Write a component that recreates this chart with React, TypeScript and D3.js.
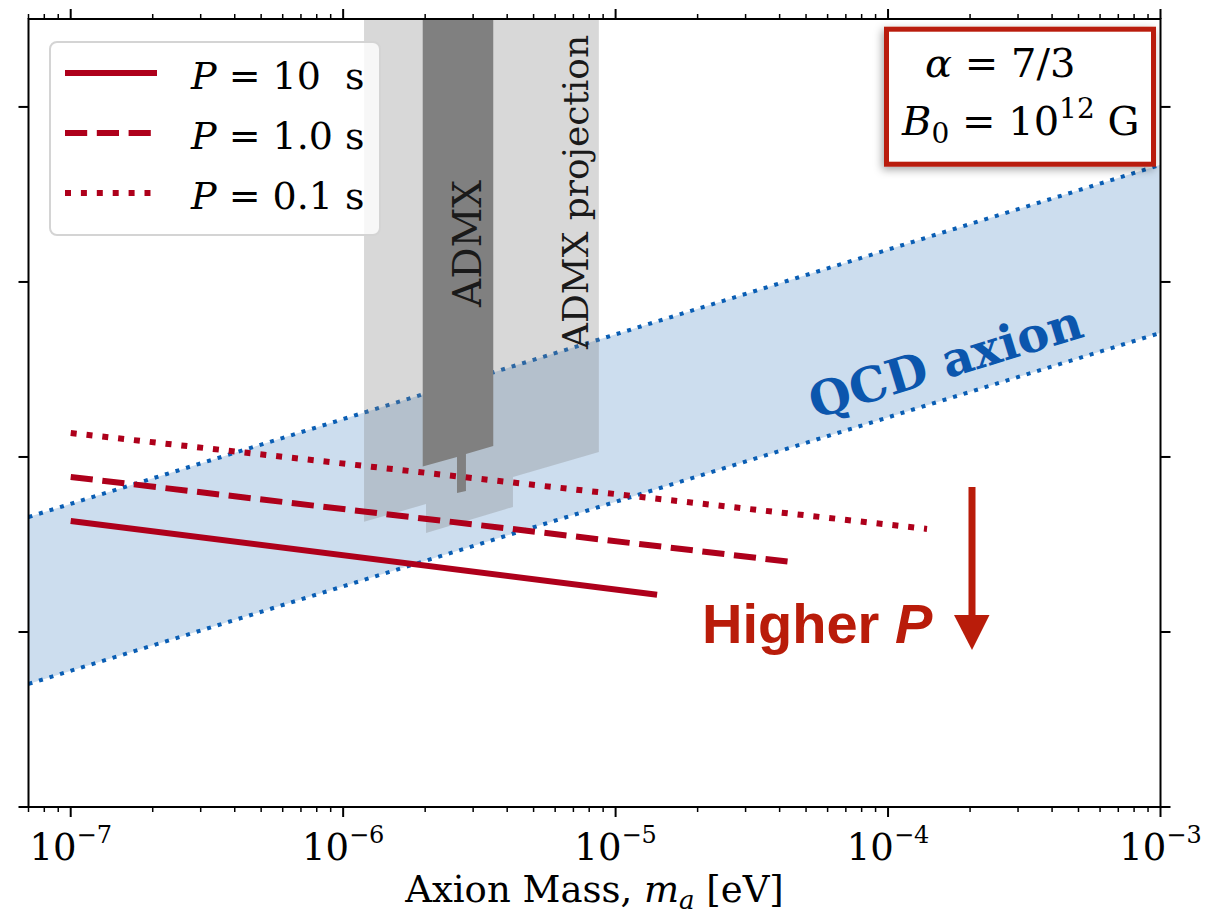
import React from "react";
import * as d3 from "d3";

// axion mass ticks (eV) and coupling ticks (no labels)
const massTicks = [1e-7, 1e-6, 1e-5, 1e-4, 1e-3];
const massTickExp = ["−7", "−6", "−5", "−4", "−3"];
const gTicks = [1e-16, 1e-15, 1e-14, 1e-13, 1e-12];

// QCD axion band edges
const qcdMass = [7e-8, 1e-3];
const qcdUpper = [4.54e-15, 4.67e-13];
const qcdLower = [5.05e-16, 5.12e-14];

// pulsar period curves
const periodLabels = ["10  s", "1.0 s", "0.1 s"];
const periodMass = [
  [1e-7, 1.42e-5],
  [1e-7, 4.44e-5],
  [1e-7, 1.39e-4],
];
const periodG = [
  [4.31e-15, 1.63e-15],
  [7.69e-15, 2.51e-15],
  [1.37e-14, 3.88e-15],
];

// ADMX exclusion and projection outlines
const gTop = 3.18e-12;
const admxProjMass = [1.193e-6, 1.193e-6, 2.014e-6, 2.014e-6, 4.2e-6, 4.2e-6, 8.68e-6, 8.68e-6];
const admxProjG = [gTop, 4.26e-15, 5.38e-15, 3.68e-15, 5.18e-15, 7.69e-15, 1.069e-14, gTop];
const admxMass = [1.959e-6, 1.959e-6, 2.617e-6, 2.617e-6, 2.823e-6, 2.823e-6, 3.556e-6, 3.556e-6];
const admxG = [gTop, 8.81e-15, 1.0e-14, 6.22e-15, 6.4e-15, 1.04e-14, 1.156e-14, gTop];

const RED = "#ae001b";
const HOT = "#b91c0a";
const BLUE = "#0a5eb4";
const SERIF = "DejaVu Serif";

export default function App() {
  const left = 28.5, right = 1160.5, top = 19, bottom = 807;
  const x = d3.scaleLog().domain([7e-8, 1e-3]).range([left, right]);
  const y = d3.scaleLog().domain([1e-16, gTop]).range([bottom, top]);

  const isMajor = (v: number) => Math.abs(Math.log10(v) - Math.round(Math.log10(v))) < 1e-6;
  const minor = x.ticks().filter(v => !isMajor(v));

  const zip = (a: number[], b: number[]) => a.map((v, i) => [v, b[i]] as [number, number]);
  const line = d3.line<[number, number]>().x(d => x(d[0])).y(d => y(d[1]));
  const band = d3.area<number>()
    .x(m => x(m))
    .y0((_, i) => y(qcdLower[i]))
    .y1((_, i) => y(qcdUpper[i]));

  // solid, dashed, dotted (matplotlib-like patterns for lw 6)
  const dashes = ["none", "22.2 9.6", "6 9.9"];

  return (
    <svg width={1225} height={920} style={{ position: "absolute", left: 0, top: 0, background: "#fff" }}
      fontFamily={SERIF}>
      <defs>
        <clipPath id="plot">
          <rect x={left} y={top} width={right - left} height={bottom - top} />
        </clipPath>
        <filter id="shadow" x="-20%" y="-30%" width="140%" height="160%">
          <feDropShadow dx={-2} dy={3} stdDeviation={4} floodColor="#000" floodOpacity={0.35} />
        </filter>
      </defs>

      <g clipPath="url(#plot)">
        <path d={band(qcdMass) ?? ""} fill="#ccddee" />
        <path d={line(zip(qcdMass, qcdUpper)) ?? ""} fill="none" stroke={BLUE} strokeWidth={4} strokeDasharray="4 7" />
        <path d={line(zip(qcdMass, qcdLower)) ?? ""} fill="none" stroke={BLUE} strokeWidth={4} strokeDasharray="4 7" />
        <path d={(line(zip(admxProjMass, admxProjG)) ?? "") + "Z"} fill="rgb(127,127,127)" fillOpacity={0.3} />
        <path d={(line(zip(admxMass, admxG)) ?? "") + "Z"} fill="#808080" />
        {periodMass.map((m, i) => (
          <path key={i} d={line(zip(m, periodG[i])) ?? ""} fill="none" stroke={RED} strokeWidth={6}
            strokeDasharray={dashes[i]} />
        ))}
      </g>

      <text transform="translate(481,307) rotate(-90)" fontSize={39} fill="#1a1a1a">ADMX</text>
      <text transform="translate(588,349) rotate(-90)" fontSize={36} fill="#1a1a1a">ADMX projection</text>
      <text transform="translate(815,419) rotate(-17)" fontSize={48} fontWeight="bold" fill="#0b56ad">QCD axion</text>

      {/* Higher P arrow */}
      <text x={702} y={643} fontFamily="Liberation Sans" fontWeight="bold" fontSize={56} fill={HOT}>
        Higher <tspan fontStyle="italic">P</tspan>
      </text>
      <line x1={972} x2={972} y1={487} y2={618} stroke={HOT} strokeWidth={7} />
      <path d="M954,615 L989.5,615 L972,650 Z" fill={HOT} />

      {/* legend */}
      <rect x={50} y={42} width={330} height={193} rx={7} fill="#fff" fillOpacity={0.8} stroke="#d4d4d4" strokeWidth={2} />
      {periodLabels.map((lab, i) => (
        <g key={lab}>
          <line x1={65} x2={157} y1={73 + i * 60} y2={73 + i * 60} stroke={RED} strokeWidth={6} strokeDasharray={dashes[i]} />
          <text x={191} y={89 + i * 60} fontSize={38} style={{ whiteSpace: "pre" }}>
            <tspan fontStyle="italic">P</tspan>{" = " + lab}
          </text>
        </g>
      ))}

      {/* parameter box */}
      <rect x={886.5} y={29.2} width={267} height={135} fill="#fff" stroke={HOT} strokeWidth={5} filter="url(#shadow)" />
      <text x={925} y={77} fontSize={40} style={{ whiteSpace: "pre" }}>
        <tspan fontStyle="italic">α</tspan>{" = 7/3"}
      </text>
      <text x={902} y={135} fontSize={40} style={{ whiteSpace: "pre" }}>
        <tspan fontStyle="italic">B</tspan>
        <tspan fontSize={28} dy={8}>0</tspan>
        <tspan dy={-8}>{" = 10"}</tspan>
        <tspan fontSize={28} dy={-17}>12</tspan>
        <tspan dy={17}>{" G"}</tspan>
      </text>

      {/* frame */}
      <rect x={left} y={top} width={right - left} height={bottom - top} fill="none" stroke="#000" strokeWidth={2} />

      {/* x ticks bottom and top */}
      {massTicks.map(v => (
        <g key={"M" + v}>
          <line x1={x(v)} x2={x(v)} y1={bottom} y2={bottom + 10} stroke="#000" strokeWidth={2} />
          <line x1={x(v)} x2={x(v)} y1={top} y2={top - 10} stroke="#000" strokeWidth={2} />
        </g>
      ))}
      {minor.map(v => (
        <g key={"m" + v}>
          <line x1={x(v)} x2={x(v)} y1={bottom} y2={bottom + 5} stroke="#000" strokeWidth={1.5} />
          <line x1={x(v)} x2={x(v)} y1={top} y2={top - 5} stroke="#000" strokeWidth={1.5} />
        </g>
      ))}
      {massTicks.map((v, i) => (
        <text key={"l" + v} x={x(v)} y={860} fontSize={37} textAnchor="middle">
          10<tspan fontSize={24} dy={-17}>{massTickExp[i]}</tspan>
        </text>
      ))}

      {/* y ticks left and right */}
      {gTicks.map(v => (
        <g key={"g" + v}>
          <line x1={left} x2={left - 10} y1={y(v)} y2={y(v)} stroke="#000" strokeWidth={2} />
          <line x1={right} x2={right + 10} y1={y(v)} y2={y(v)} stroke="#000" strokeWidth={2} />
        </g>
      ))}

      <text x={(left + right) / 2} y={902} fontSize={37} textAnchor="middle" style={{ whiteSpace: "pre" }}>
        {"Axion Mass, "}<tspan fontStyle="italic">m</tspan>
        <tspan fontSize={26} fontStyle="italic" dy={7}>a</tspan>
        <tspan dy={-7}>{" [eV]"}</tspan>
      </text>
    </svg>
  );
}
